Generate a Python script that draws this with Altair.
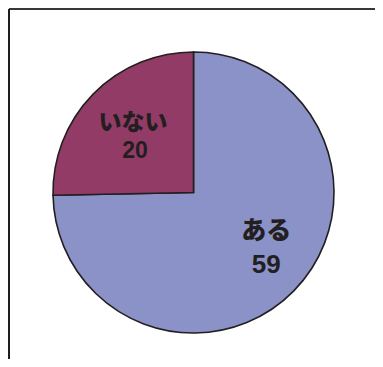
import altair as alt
import pandas as pd

categories = ["ある", "いない"]
values = [59, 20]
colors = ["#8a92c8", "#923b67"]

df = pd.DataFrame({
    "cat": categories,
    "v": values,
    "idx": [0, 1],
})

W, H = 367, 351
cx, cy, R = 185.5, 184.5, 140.5

theta_scale = alt.Scale(domain=[0, 1])

src = alt.Chart(df).transform_joinaggregate(
    total="sum(v)"
).transform_window(
    cum="sum(v)", sort=[alt.SortField("idx")]
).transform_calculate(
    frac="datum.v / datum.total",
    mid="(datum.cum - datum.v / 2) / datum.total",
)

pie = src.mark_arc(
    outerRadius=R, stroke="#231f20", strokeWidth=1.6, x=cx, y=cy
).encode(
    theta=alt.Theta("frac:Q", stack=True, scale=theta_scale),
    order=alt.Order("idx:Q"),
    color=alt.Color("cat:N", scale=alt.Scale(domain=categories, range=colors), legend=None),
)

def text_layer(cat, field, r, dx, dy, font, size, weight):
    return src.transform_filter(alt.datum.cat == cat).mark_text(
        x=cx, y=cy, radius=r, dx=dx, dy=dy,
        font=font, fontWeight=weight, fontSize=size,
        color="#231f20", baseline="middle", align="center",
    ).encode(
        theta=alt.Theta("mid:Q", stack=False, scale=theta_scale),
        text=alt.Text(field),
    )

JP = "Noto Sans CJK JP"
NUM = "Liberation Sans"

layers = [
    text_layer("ある", "cat:N", 92, 7, -26, JP, 25, 900),
    text_layer("ある", "v:Q", 92, 7, 8, NUM, 26, "bold"),
    text_layer("いない", "cat:N", 82, -2, -12.5, JP, 23, 900),
    text_layer("いない", "v:Q", 82, 0, 16, NUM, 23, "bold"),
]

frame_top = alt.Chart(df).mark_rule(color="#2b2b2b", strokeWidth=1.6).encode(
    x=alt.value(1), x2=alt.value(W), y=alt.value(1)
)
frame_left = alt.Chart(df).mark_rule(color="#1e1e1e", strokeWidth=2).encode(
    x=alt.value(1), y=alt.value(1), y2=alt.value(H)
)

chart = alt.layer(pie, *layers, frame_top, frame_left).properties(
    width=W, height=H, padding=0, autosize=alt.AutoSizeParams(type="none")
).configure_view(stroke=None)

chart.save("out.html", embed_options={"renderer": "svg", "actions": False})
